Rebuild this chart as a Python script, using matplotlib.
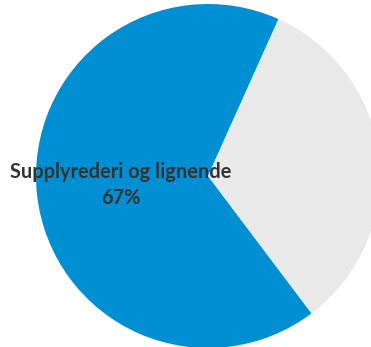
import matplotlib
matplotlib.use("Agg")
import matplotlib.pyplot as plt

# Share of companies by segment
segments = ["Supplyrederi og lignende", "Andre"]
shares = [67, 33]
colors = ["#008FD3", "#E9E9E9"]

W, H = 371, 347
fig = plt.figure(figsize=(W / 100, H / 100), dpi=100)
ax = fig.add_axes([0, 0, 1, 1])

cx, cy, r = 208, H - 176, 172
ax.pie(shares, colors=colors, startangle=65.8, counterclock=True,
       center=(cx, cy), radius=r, wedgeprops=dict(linewidth=0))

ax.set_xlim(0, W)
ax.set_ylim(0, H)
ax.set_aspect("equal")
ax.axis("off")

ax.text(121, H - 172, segments[0], ha="center", va="center",
        fontsize=14.4, fontweight="bold", color="#333333", family="Lato")
ax.text(121, H - 198, f"{shares[0]}%", ha="center", va="center",
        fontsize=14.4, fontweight="bold", color="#333333", family="Lato")

fig.savefig("out.png", dpi=100)
